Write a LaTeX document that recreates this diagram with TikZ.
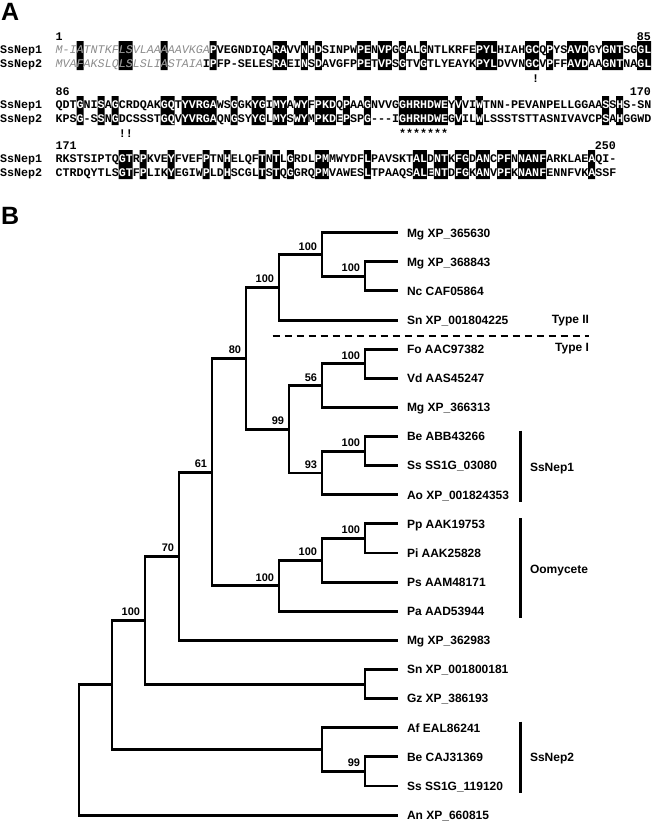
\documentclass[tikz,border=0pt]{standalone}
\usepackage{fontspec}
\setmainfont{Liberation Sans}
\setmonofont{Liberation Mono}
\usetikzlibrary{calc}
\definecolor{Sig}{HTML}{8C8C8C}
\newcommand\seqfont{\ttfamily\bfseries\fontsize{11.68}{12}\selectfont}
\newcommand\leaffont{\bfseries\fontsize{12}{14}\selectfont}
\newcommand\bootfont{\bfseries\fontsize{11}{13}\selectfont}
\newcommand\panelfont{\bfseries\fontsize{25}{28}\selectfont}
\newcommand\sig[1]{{\color{Sig}\mdseries\itshape #1}}
\newcommand\xo{55.5}
\newcommand\cw{7.008}
\tikzset{seq/.style={anchor=base west,inner sep=0pt,font=\seqfont},seqr/.style={anchor=base east,inner sep=0pt,font=\seqfont},leaf/.style={anchor=west,inner xsep=9pt,inner ysep=0pt,outer sep=0pt,text height=8.6pt,text depth=0pt,font=\leaffont},tag/.style={inner sep=0pt,outer sep=0pt,text height=8.6pt,text depth=0pt,font=\leaffont},boot/.style={anchor=south east,inner sep=0pt,outer sep=0pt,xshift=-5pt,yshift=4.5pt,text height=7.9pt,text depth=0pt,font=\bootfont},branch/.style={line width=2.9pt},bar/.style={line width=3pt},divider/.style={line width=1.8pt,dash pattern=on 7pt off 5pt},panel/.style={anchor=base west,inner sep=0pt,font=\panelfont}}
% one block of the alignment: name, baseline, boxed columns, two rows, numbers, last column
\newcommand\seqblock[8]{%
  \fill foreach \a/\b in {#3} {({\xo+\cw*(\a-1)},{#2-12.3}) rectangle ({\xo+\cw*\b},{#2+16.6})};
  \node[seq](#1a) at (\xo,#2) {#4};
  \node[seq](#1b) at (\xo,#2+14) {#5};
  \begin{scope}
    \clip foreach \a/\b in {#3} {({\xo+\cw*(\a-1)},{#2-12.3}) rectangle ({\xo+\cw*\b},{#2+16.6})};
    \node[seq,text=white](#1aw) at (\xo,#2) {#4};
    \node[seq,text=white](#1bw) at (\xo,#2+14) {#5};
  \end{scope}
  \node[seq](#1p) at (0,#2) {SsNep1};
  \node[seq](#1q) at (0,#2+14) {SsNep2};
  \node[seq](#1f) at (\xo,#2-13.5) {#6};
  \node[seqr](#1l) at ({\xo+\cw*#8},#2-13.5) {#7};}

\begin{document}
\begin{tikzpicture}[x=1pt,y=-1pt]
  \useasboundingbox (0,0) rectangle (655,823);
  \node[panel](pa) at (1,20) {A};
  \node[panel](pb) at (1,224) {B};
  % alignment
  \seqblock{ba}{53.5}{4/4,10/11,16/16,23/23,32/33,36/36,38/38,44/45,47/48,50/50,53/53,61/63,68/69,71/71,74/76,79/81,84/85}{\sig{M-IATNTKFLSVLAAAAAVKGA}PVEGNDIQARAVVNHDSINPWPENVPGGALGNTLKRFEPYLHIAHGCQPYSAVDGYGNTSGGL}{\sig{MVAFAKSLQLSLSLIASTAIA}IPFP-SELESRAEINSDAVGFPPETVPSGTVGTLYEAYKPYLDVVNGCVPFFAVDAAGNTNAGL}{1}{85}{85}
  \seqblock{bb}{108.5}{4/4,7/7,9/9,16/17,19/23,26/26,29/30,32/33,35/36,38/40,42/42,45/45,50/56,58/58,61/61,79/79,81/81}{QDTGNISAGCRDQAKGQTYVRGAWSGGKYGIMYAWYFPKDQPAAGNVVGGHRHDWEYVVIWTNN-PEVANPELLGGAASSHS-SN}{KPSG-SSNGDCSSSTGQVYVRGAQNGSYYGLMYSWYMPKDEPSPG---IGHRHDWEGVILWLSSSTSTTASNIVAVCPSAHGGWD}{86}{170}{85}
  \seqblock{bc}{162.5}{10/11,13/13,17/17,22/22,25/25,30/30,32/32,34/34,38/39,45/45,52/53,55/56,58/59,61/62,64/65,67/70,77/77}{RKSTSIPTQGTRPKVEYFVEFPTNHELQFTNTLGRDLPMMWYDFLPAVSKTALDNTKFGDANCPFNNANFARKLAEAQI-}{CTRDQYTLSGTFPLIKYEGIWPLDHSCGLTSTQGGRQPMVAWESLTPAAQSALENTDFGKANVPFKNANFENNFVKASSF}{171}{250}{80}
  \node[seq](cys1) at ({\xo+\cw*68},82) {!};
  \node[seq](cys2) at ({\xo+\cw*9},137.5) {!!};
  \node[seq](motif) at ({\xo+\cw*49},137.5) {*******};
  % tree
  \foreach \lbl [count=\i] in {Mg XP\_365630,Mg XP\_368843,Nc CAF05864,Sn XP\_001804225,Fo AAC97382,Vd AAS45247,Mg XP\_366313,Be ABB43266,Ss SS1G\_03080,Ao XP\_001824353,Pp AAK19753,Pi AAK25828,Ps AAM48171,Pa AAD53944,Mg XP\_362983,Sn XP\_001800181,Gz XP\_386193,Af EAL86241,Be CAJ31369,Ss SS1G\_119120,An XP\_660815}
    \node[leaf](t\i) at (398,{232.7+29.12*(\i-1)}) {\lbl};
  \coordinate (nC) at (365,276.35);
  \coordinate (nA) at (322,254.5);
  \coordinate (nB) at (279,287.3);
  \coordinate (nG) at (365,363.75);
  \coordinate (nF) at (322,385.6);
  \coordinate (nI) at (365,451.1);
  \coordinate (nH) at (322,472.95);
  \coordinate (nE) at (289,429.3);
  \coordinate (nD) at (246,358.3);
  \coordinate (nJ) at (365,538.45);
  \coordinate (nK) at (322,560.3);
  \coordinate (nL) at (279,585.8);
  \coordinate (n61) at (212,472.05);
  \coordinate (n70) at (179,556.2);
  \coordinate (nSG) at (365,684.05);
  \coordinate (nM) at (145,620.1);
  \coordinate (nBS) at (365,771.45);
  \coordinate (nAf) at (322,749.6);
  \coordinate (nN) at (112,684.85);
  \coordinate (root) at (79,749.95);
  \foreach \p/\c in {nA/t1,nA/nC,nC/t2,nC/t3,nB/nA,nB/t4,nD/nB,nD/nE,nE/nF,nE/nH,nF/nG,nF/t7,nG/t5,nG/t6,nH/nI,nH/t10,nI/t8,nI/t9,n61/nD,n61/nL,nL/nK,nL/t14,nK/nJ,nK/t13,nJ/t11,nJ/t12,n70/n61,n70/t15,nM/n70,nM/nSG,nSG/t16,nSG/t17,nN/nM,nN/nAf,nAf/t18,nAf/nBS,nBS/t19,nBS/t20,root/nN,root/t21}
    \draw[branch](\p) |- (\c);
  \foreach \n/\v in {nA/100,nC/100,nB/100,nD/80,nE/99,nF/56,nG/100,nH/93,nI/100,n61/61,nJ/100,nK/100,nL/100,n70/70,nM/100,nBS/99}
    \node[boot](b\n) at (\n) {\v};
  % types and groups
  \coordinate (dl) at (272.7,335.7);
  \coordinate (dr) at (589,335.7);
  \draw[divider](dl) -- (dr);
  \node[tag,anchor=east](ty2) at (589,319.5) {Type II};
  \node[tag,anchor=east](ty1) at (589,347) {Type I};
  \coordinate (g1t) at (520.5,430.7);
  \coordinate (g1b) at (520.5,501.7);
  \coordinate (g2t) at (520.5,518.3);
  \coordinate (g2b) at (520.5,618.3);
  \coordinate (g3t) at (520.5,721.7);
  \coordinate (g3b) at (520.5,792.7);
  \draw[bar](g1t) -- (g1b);
  \draw[bar](g2t) -- (g2b);
  \draw[bar](g3t) -- (g3b);
  \node[tag,anchor=west](gn1) at (530,466.7) {SsNep1};
  \node[tag,anchor=west](gom) at (530,569) {Oomycete};
  \node[tag,anchor=west](gn2) at (530,757.3) {SsNep2};
\end{tikzpicture}
\end{document}
